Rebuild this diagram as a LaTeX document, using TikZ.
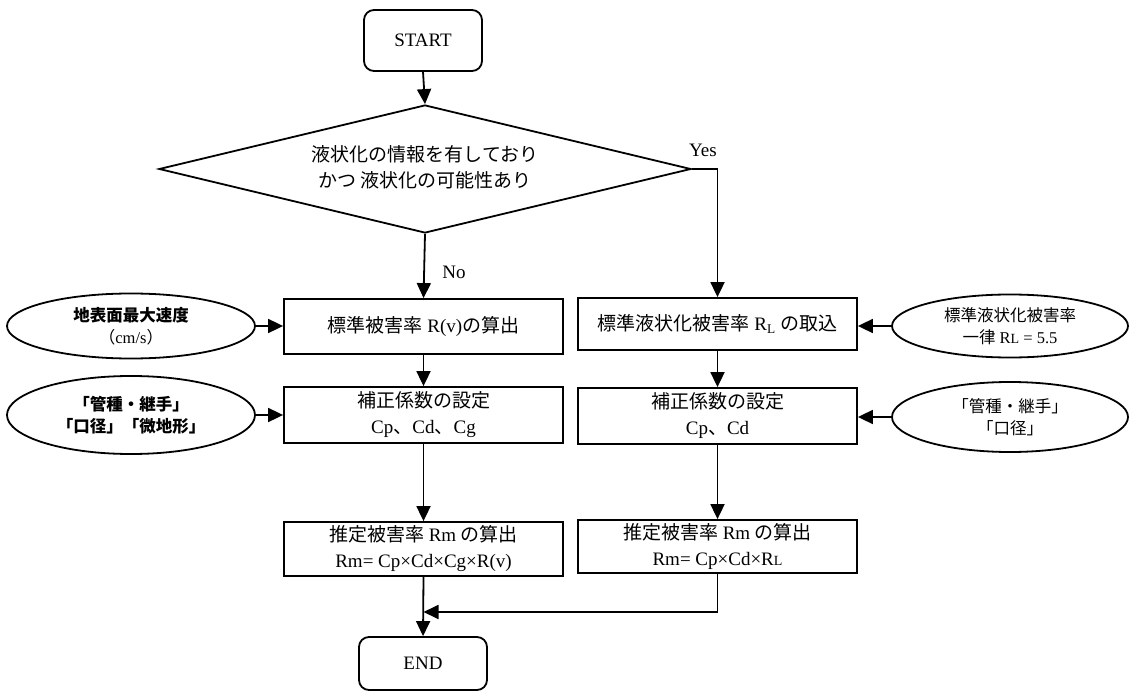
\documentclass[tikz,border=0pt]{standalone}
\usepackage{fontspec}
\setmainfont{Liberation Serif}
\newfontfamily\cjk{Noto Sans CJK JP}
\usetikzlibrary{
	shapes.geometric,
	arrows.meta,
	positioning,
	calc
}
\newcommand{\jtext}[1]{{\cjk #1}}
\newcommand{\jbold}[1]{{\cjk\bfseries #1}}
\newcommand{\smallL}{{\fontsize{14}{14}\selectfont L}}

\tikzstyle{arrow} = [line width=1.8pt, -{Triangle[length=15pt, width=14pt]}]
\tikzstyle{process} = [rectangle, draw, line width=1.8pt, minimum width=279pt, inner sep=0pt, align=center, font=\fontsize{19}{26}\selectfont]
\tikzstyle{term} = [rectangle, draw, line width=1.8pt, rounded corners=10pt, inner sep=0pt, align=center, font=\fontsize{19}{24}\selectfont]
\tikzstyle{source} = [ellipse, draw, line width=1.8pt, inner sep=0pt, align=center, font=\fontsize{16.5}{22}\selectfont]
\tikzstyle{decision} = [diamond, draw, line width=1.8pt, inner sep=0pt, shape aspect=4.16, align=center, font=\fontsize{19}{26}\selectfont]

\begin{document}
\begin{tikzpicture}[x=1pt, y=-1pt]
		
		\useasboundingbox (0,0) rectangle (1131,692);
		
		% ====== Debut / Fin ======
		\node[term, minimum width=118pt, minimum height=61pt] (start) at (423,40.5) {START};
		\node[term, minimum width=128pt, minimum height=53pt] (end) at (423,663.5) {END};
		
		% ====== Test liquefaction ======
		\node[decision, minimum width=532pt, minimum height=128pt] (dec) at (425,169)
		{\raisebox{6pt}{\begin{tabular}{@{}c@{}}\jtext{液状化の情報を有しており}\\\jtext{かつ 液状化の可能性あり}\end{tabular}}};
		
		% ====== Colonne gauche ======
		\node[process, minimum height=55pt] (rv) at (423.5,326.5) {\jtext{標準被害率} R(v)\jtext{の算出}};
		\node[process, minimum height=56pt] (cl) at (423.5,415) {\jtext{補正係数の設定}\\Cp\jtext{、}Cd\jtext{、}Cg};
		\node[process, minimum height=54pt] (ml) at (423.5,549) {\jtext{推定被害率} Rm \jtext{の算出}\\Rm= Cp×Cd×Cg×R(v)};
		
		% ====== Colonne droite ======
		\node[process, minimum height=52pt] (rl) at (717.5,324) {\jtext{標準液状化被害率} R\textsubscript{L} \jtext{の取込}};
		\node[process, minimum height=56pt] (cr) at (717.5,416) {\jtext{補正係数の設定}\\Cp\jtext{、}Cd};
		\node[process, minimum height=53pt] (mr) at (717.5,546.5) {\jtext{推定被害率} Rm \jtext{の算出}\\Rm= Cp×Cd×R\smallL};
		
		% ====== Donnees d'entree ======
		\node[source, minimum width=248pt, minimum height=65pt] (vel) at (131,326) {\jbold{地表面最大速度}\\\jtext{（}cm/s\jtext{）}};
		\node[source, minimum width=248pt, minimum height=78pt] (coefl) at (131,415) {\jbold{「管種・継手」}\\\jbold{「口径」「微地形」}};
		\node[source, minimum width=236pt, minimum height=63pt] (rlin) at (1010,326) {\jtext{標準液状化被害率}\\\jtext{一律} R\smallL{} = 5.5};
		\node[source, minimum width=236pt, minimum height=70pt] (coefr) at (1010,417) {\jtext{「管種・継手」}\\\jtext{「口径」}};
		
		\coordinate (join) at (423.5,612);
		
		% ====== Liaisons ======
		\draw[arrow] (start.south) -- (dec.north);
		\draw[arrow] (dec.east) node[above right, font=\fontsize{19}{19}\selectfont, xshift=-7pt, yshift=8pt] (yes) {Yes} -| (rl.north);
		\draw[arrow] (dec.south) -- (rv.north) node[pos=0.6, anchor=west, xshift=14pt, font=\fontsize{19}{19}\selectfont] (no) {No};
		
		\draw[arrow] (vel.east) -- (vel.east -| rv.west);
		\draw[arrow] (coefl.east) -- (coefl.east -| cl.west);
		\draw[arrow] (rlin.west) -- (rlin.west -| rl.east);
		\draw[arrow] (coefr.west) -- (coefr.west -| cr.east);
		
		\draw[arrow] (rv.south) -- (cl.north);
		\draw[arrow] (cl.south) -- (ml.north);
		\draw[arrow] (rl.south) -- (cr.north);
		\draw[arrow] (cr.south) -- (mr.north);
		
		\draw[arrow] (ml.south) -- (end.north);
		\draw[arrow] (mr.south) |- (join);
		
	\end{tikzpicture}
\end{document}
